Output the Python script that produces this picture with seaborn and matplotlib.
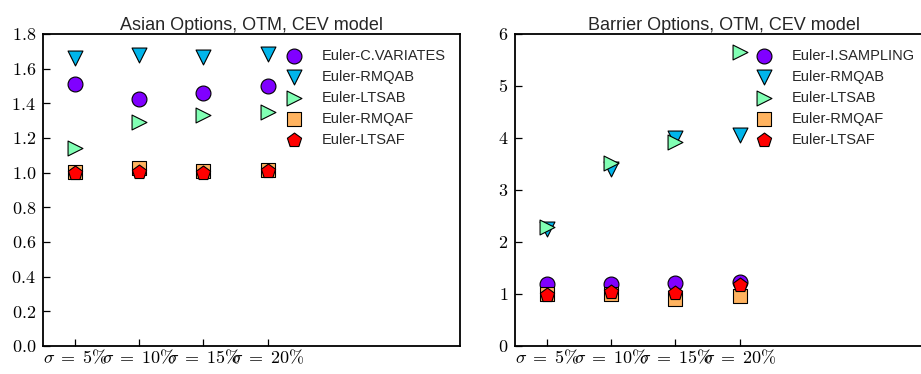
import numpy as np
import pandas as pd
import matplotlib
matplotlib.use("Agg")
import matplotlib.pyplot as plt
import seaborn as sns

sns.set_style("ticks")
plt.rcParams['font.family'] = ['Liberation Sans', 'DejaVu Sans']
plt.rcParams['mathtext.fontset'] = 'cm'

xlabels = [r"$\sigma\;=\;5\%$", r"$\sigma\;=\;10\%$", r"$\sigma\;=\;15\%$", r"$\sigma\;=\;20\%$"]
xpos = [0, 1, 2, 3]

asian_names = ["Euler-C.VARIATES", "Euler-RMQAB", "Euler-LTSAB", "Euler-RMQAF", "Euler-LTSAF"]
asian_cv = [1.51, 1.427, 1.458, 1.502]
asian_rmqab = [1.663, 1.676, 1.667, 1.685]
asian_ltsab = [1.14, 1.294, 1.333, 1.348]
asian_rmqaf = [1.006, 1.025, 1.01, 1.013]
asian_ltsaf = [0.996, 1.003, 0.996, 1.009]

barrier_names = ["Euler-I.SAMPLING", "Euler-RMQAB", "Euler-LTSAB", "Euler-RMQAF", "Euler-LTSAF"]
barrier_is = [1.19, 1.20, 1.22, 1.24]
barrier_rmqab = [2.25, 3.40, 4.0, 4.06]
barrier_ltsab = [2.28, 3.51, 3.93, 5.66]
barrier_rmqaf = [1.0, 1.0, 0.9, 0.96]
barrier_ltsaf = [0.98, 1.04, 1.01, 1.17]

markers = ["o", "v", ">", "s", "p"]
colors = [plt.cm.rainbow(v) for v in np.linspace(0, 1, 5)]

fig = plt.figure(figsize=(9.21, 3.74), dpi=100)
ax1 = fig.add_axes([43/921, 28/374, 417/921, 312/374])
ax2 = fig.add_axes([515/921, 28/374, 417/921, 312/374])


def draw(ax, names, series, title, yticks, ylabels, ylim, anchor_x):
    for name, vals, m, c in zip(names, series, markers, colors):
        df = pd.DataFrame({"x": xpos, "y": vals})
        sns.scatterplot(data=df, x="x", y="y", marker=m, color=c, s=115,
                        edgecolor="black", linewidth=0.8, label=name, ax=ax,
                        zorder=3, clip_on=False)
    ax.set_xlim(-0.5, 6.0)
    ax.set_ylim(*ylim)
    ax.set_xticks(xpos)
    ax.set_xticklabels(xlabels, fontsize=13)
    ax.set_yticks(yticks)
    ax.set_yticklabels(ylabels, fontsize=13)
    ax.set_xlabel("")
    ax.set_ylabel("")
    ax.set_title(title, fontsize=13, pad=3)
    ax.tick_params(direction="in", length=5, width=0.9, colors="black")
    ax.tick_params(axis="x", pad=2)
    ax.tick_params(axis="y", pad=5)
    for sp in ["top", "right", "left", "bottom"]:
        ax.spines[sp].set_visible(True)
        ax.spines[sp].set_linewidth(1.3)
        ax.spines[sp].set_color("black")
    ax.legend(loc="upper right", frameon=False, fontsize=10.5, scatterpoints=1,
              handletextpad=0.9, labelspacing=0.48, borderaxespad=0.6,
              bbox_to_anchor=(anchor_x, 1.0))


draw(ax1, asian_names, [asian_cv, asian_rmqab, asian_ltsab, asian_rmqaf, asian_ltsaf],
     "Asian Options, OTM, CEV model",
     [0.0, 0.2, 0.4, 0.6, 0.8, 1.0, 1.2, 1.4, 1.6, 1.8],
     ["$0.0$", "$0.2$", "$0.4$", "$0.6$", "$0.8$", "$1.0$", "$1.2$", "$1.4$", "$1.6$", "$1.8$"],
     (0, 1.8), 1.0)
draw(ax2, barrier_names, [barrier_is, barrier_rmqab, barrier_ltsab, barrier_rmqaf, barrier_ltsaf],
     "Barrier Options, OTM, CEV model",
     [0, 1, 2, 3, 4, 5, 6],
     ["$0$", "$1$", "$2$", "$3$", "$4$", "$5$", "$6$"],
     (0, 6), 0.995)

fig.savefig("out.png", dpi=100)
